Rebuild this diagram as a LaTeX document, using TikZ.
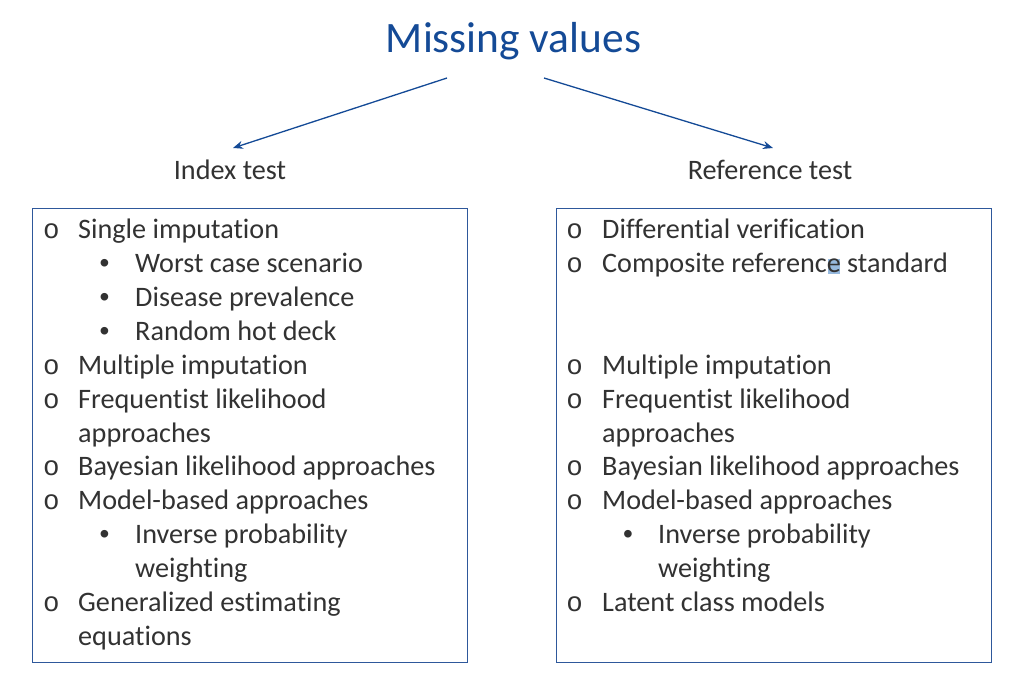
\documentclass[tikz,border=0pt]{standalone}
\usepackage{fontspec}
\setmainfont[Ligatures={NoCommon,NoRare}]{Carlito}
\newfontfamily\ringfont{Liberation Mono}
\newfontfamily\dotfont{Liberation Sans}
\usetikzlibrary{arrows.meta}
\definecolor{titleblue}{RGB}{20,74,150}
\definecolor{boxblue}{RGB}{46,88,155}
\definecolor{bodytext}{RGB}{50,50,50}
\definecolor{selblue}{RGB}{150,185,222}

\begin{document}
\begin{tikzpicture}[x=1pt,y=-1pt,
  bodyfont/.style={font=\fontsize{28.2}{34}\selectfont},
  line/.style={anchor=base west, inner sep=0pt, bodyfont, text=bodytext},
  ring/.style={anchor=base, inner sep=0pt, font=\ringfont\fontsize{27.5}{33}\selectfont, text=bodytext},
  dot/.style={anchor=base, inner sep=0pt, font=\dotfont\fontsize{28}{34}\selectfont, text=bodytext},
  header/.style={anchor=base, inner sep=0pt, bodyfont, text=bodytext},
  listbox/.style={draw=boxblue, line width=1.3pt},
  link/.style={draw=titleblue, line width=1.3pt, -{Stealth[length=10pt,width=8pt]}}]

\useasboundingbox (0,0) rectangle (1017,682);

% title and the two branches
\node[anchor=base, inner sep=0pt, font=\fontsize{43.4}{52}\selectfont, text=titleblue]
  (title) at (513.5,53) {Missing values};
\node[header] (index) at (230,179) {Index test};
\node[header] (reference) at (770,179) {Reference test};

\coordinate (fromL) at (447,78);
\coordinate (toL) at (233,148);
\coordinate (fromR) at (544,78);
\coordinate (toR) at (773,148);
\draw[link] (fromL) -- (toL);
\draw[link] (fromR) -- (toR);

% frames
\node[listbox, inner sep=0pt, minimum width=435pt, minimum height=454pt, anchor=north west]
  (leftbox) at (32,207.5) {};
\node[listbox, inner sep=0pt, minimum width=435pt, minimum height=454pt, anchor=north west]
  (rightbox) at (555.5,207.5) {};

% selection mark in the composite reference line
\fill[selblue] (828,259) rectangle (840,274);

% left list: index test
\foreach \k/\kind/\txt [count=\i] in {
  0/r/Single imputation,
  1/d/Worst case scenario,
  2/d/Disease prevalence,
  3/d/Random hot deck,
  4/r/Multiple imputation,
  5/r/Frequentist likelihood,
  6/c/approaches,
  7/r/Bayesian likelihood approaches,
  8/r/Model-based approaches,
  9/d/Inverse probability,
  10/e/weighting,
  11/r/Generalized estimating,
  12/c/equations}{
  \pgfmathsetmacro{\yb}{238.3+33.95*\k}
  \if r\kind
    \node[ring] (lmark\i) at (51.5,\yb) {o};
    \node[line] (ltext\i) at (78,\yb) {\txt};
  \fi
  \if d\kind
    \node[dot] (lmark\i) at (104.5,\yb) {•};
    \node[line] (ltext\i) at (135,\yb) {\txt};
  \fi
  \if c\kind
    \node[line] (ltext\i) at (78,\yb) {\txt};
  \fi
  \if e\kind
    \node[line] (ltext\i) at (135,\yb) {\txt};
  \fi
}

% right list: reference test
\foreach \k/\kind/\txt [count=\i] in {
  0/r/Differential verification,
  1/r/Composite reference standard,
  4/r/Multiple imputation,
  5/r/Frequentist likelihood,
  6/c/approaches,
  7/r/Bayesian likelihood approaches,
  8/r/Model-based approaches,
  9/d/Inverse probability,
  10/e/weighting,
  11/r/Latent class models}{
  \pgfmathsetmacro{\yb}{238.3+33.95*\k}
  \if r\kind
    \node[ring] (rmark\i) at (574.5,\yb) {o};
    \node[line] (rtext\i) at (602,\yb) {\txt};
  \fi
  \if d\kind
    \node[dot] (rmark\i) at (628,\yb) {•};
    \node[line] (rtext\i) at (658,\yb) {\txt};
  \fi
  \if c\kind
    \node[line] (rtext\i) at (602,\yb) {\txt};
  \fi
  \if e\kind
    \node[line] (rtext\i) at (658,\yb) {\txt};
  \fi
}
\end{tikzpicture}
\end{document}
